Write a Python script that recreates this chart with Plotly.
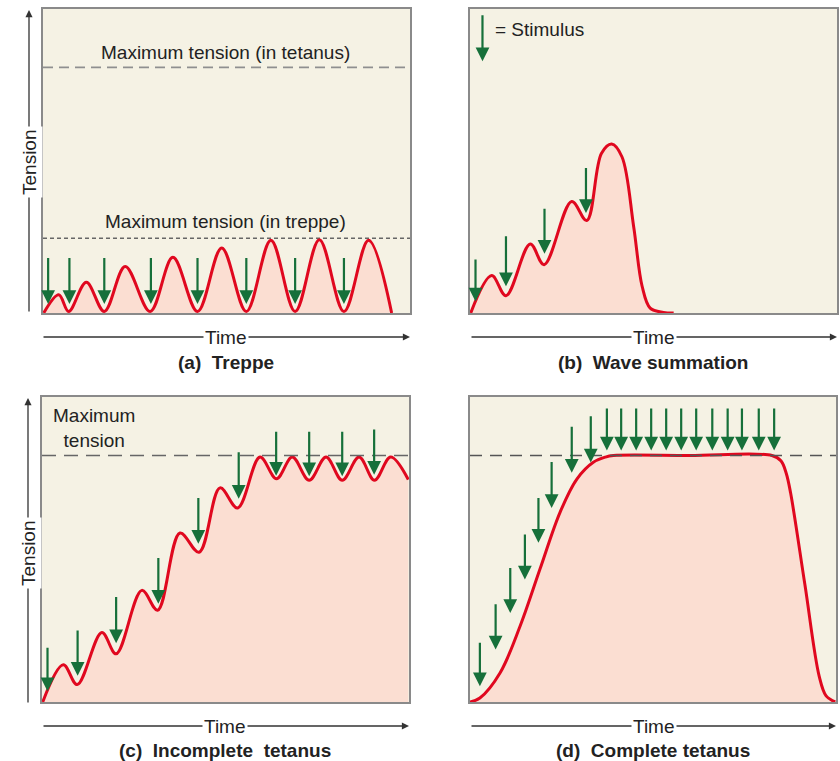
import plotly.graph_objects as go

# ---------------- data (0-100 arbitrary units) ----------------
# (a) Treppe
treppe_time    = [0.2, 4.3, 7.0, 11.8, 16.7, 22.4, 29.2, 35.4, 42.1, 48.7, 55.4, 62.1, 68.7, 75.3, 82.0, 88.7, 95.0]
treppe_tension = [0.0, 6.0, 0.5, 10.1, 0.5, 15.3, 0.5, 18.3, 0.5, 21.4, 0.5, 23.9, 0.5, 24.1, 0.5, 23.9, 0.0]
treppe_stim_time = [1.4, 7.2, 16.7, 29.4, 42.1, 55.4, 68.7, 82.0]
treppe_stim_from = [18.6, 18.6, 18.6, 18.6, 18.6, 18.6, 18.6, 18.6]
treppe_stim_to   = [3.0, 3.0, 3.0, 3.0, 3.0, 3.0, 3.0, 3.0]
treppe_max_tetanus = 80.8
treppe_max_treppe = 24.6

# (b) Wave summation
wave_time    = [0.2, 5.9, 9.8, 16.4, 20.2, 27.7, 31.8, 35.8, 38.6, 41.4, 44.6, 46.9, 49.1, 52.7, 55.5]
wave_tension = [0.0, 12.3, 5.7, 22.7, 15.9, 36.7, 30.4, 52.5, 55.6, 51.4, 28.4, 8.8, 1.6, 0.2, 0.0]
wave_stim_time = [1.5, 9.8, 20.3, 31.6]
wave_stim_from = [18.1, 25.7, 34.8, 48.2]
wave_stim_to   = [3.8, 8.8, 19.5, 32.9]

# (c) Incomplete tetanus
inc_time    = [0.2, 5.8, 9.6, 16.3, 20.2, 27.2, 31.5, 37.6, 42.8, 48.5, 53.3, 59.4, 63.9,
               68.2, 72.8, 77.4, 81.8, 86.4, 90.6, 95.0, 99.8]
inc_tension = [0.0, 12.2, 5.7, 22.8, 15.8, 36.6, 30.1, 55.4, 49.1, 70.2, 63.6, 80.3, 73.2,
               80.3, 72.7, 80.3, 72.7, 80.3, 72.7, 80.3, 72.9]
inc_stim_time = [1.5, 9.7, 20.2, 31.7, 42.6, 53.6, 63.8, 72.8, 81.8, 90.5]
inc_stim_from = [18.3, 23.9, 34.9, 47.7, 67.4, 82.4, 89.1, 89.1, 89.1, 89.8]
inc_stim_to   = [3.5, 8.6, 19.3, 32.2, 51.9, 66.6, 74.2, 74.0, 74.0, 74.5]
inc_max = 80.8

# (d) Complete tetanus
comp_time    = [0.0, 2.7, 8.2, 13.7, 19.1, 24.6, 29.2, 33.7, 37.0, 39.2, 60.0, 82.5, 85.0, 86.4, 87.6,
                91.5, 95.4, 97.3, 99.8]
comp_tension = [0.0, 1.3, 9.5, 24.9, 43.5, 62.2, 73.1, 78.6, 80.3, 80.8, 80.8, 80.8, 79.0, 75.0, 68.5,
                38.5, 8.5, 2.0, 0.0]
comp_stim_time = [2.7, 7.0, 11.0, 15.0, 18.7, 22.3, 27.8, 33.0, 37.4, 41.3, 45.4, 49.5, 53.6,
                  57.7, 61.8, 66.2, 70.4, 74.3, 78.9, 83.1]
comp_stim_from = [19.9, 32.5, 44.4, 55.4, 67.4, 79.2, 90.7, 94.2, 96.7, 96.7, 96.7, 96.7, 96.7,
                  96.7, 96.7, 96.7, 96.7, 96.7, 96.7, 96.7]
comp_stim_to   = [5.2, 17.2, 29.2, 40.2, 52.2, 63.6, 75.2, 78.5, 82.5, 82.5, 82.5, 82.5, 82.5,
                  82.5, 82.5, 82.5, 82.5, 82.5, 82.5, 82.5]
comp_max = 80.8

# legend arrow ("= Stimulus") in panel (b)
legend_stim_time = [3.4]
legend_stim_from = [98.4]
legend_stim_to = [82.8]

# ---------------- style ----------------
W, H = 840, 761
FONT = "Liberation Sans, Arial, Helvetica, sans-serif"
BG = "#f5f2e4"
FILL = "rgba(251,222,210,1)"
RED = "#e0081f"
GREEN = "#16703a"
FRAME = "#8a8a8a"
TXT = "#222222"
FS = 19

def px_x(p):
    return p / W

def px_y(p):
    return 1 - p / H

panels = {
    "a": dict(xa="x", ya="y", xd=[43, 410], yd=[9, 313]),
    "b": dict(xa="x2", ya="y2", xd=[470, 837], yd=[9, 313]),
    "c": dict(xa="x3", ya="y3", xd=[42, 409], yd=[397, 702]),
    "d": dict(xa="x4", ya="y4", xd=[470, 836], yd=[397, 702]),
}

fig = go.Figure()
annotations = []

def add_curve(key, t, v):
    p = panels[key]
    fig.add_trace(go.Scatter(x=t, y=v, xaxis=p["xa"], yaxis=p["ya"], mode="lines",
                             line=dict(color=RED, width=3, shape="spline", smoothing=1.0),
                             fill="tozeroy", fillcolor=FILL, hoverinfo="skip", showlegend=False))

def add_level(key, level, dash, color, width=1.5):
    p = panels[key]
    fig.add_trace(go.Scatter(x=[0, 100], y=[level, level], xaxis=p["xa"], yaxis=p["ya"], mode="lines",
                             line=dict(color=color, width=width, dash=dash),
                             hoverinfo="skip", showlegend=False))

def add_stimuli(key, times, frm, to):
    p = panels[key]
    for t, f, e in zip(times, frm, to):
        annotations.append(dict(x=t, y=e, ax=t, ay=f, xref=p["xa"], yref=p["ya"],
                                axref=p["xa"], ayref=p["ya"], text="", showarrow=True,
                                arrowhead=2, arrowsize=1.25, arrowwidth=2.2, arrowcolor=GREEN,
                                standoff=0))

add_level("a", treppe_max_tetanus, "10px,6px", "#8f8f8f", 1.8)
add_level("a", treppe_max_treppe, "4px,3px", "#666666", 1.4)
add_curve("a", treppe_time, treppe_tension)
add_stimuli("a", treppe_stim_time, treppe_stim_from, treppe_stim_to)

add_curve("b", wave_time, wave_tension)
add_stimuli("b", wave_stim_time, wave_stim_from, wave_stim_to)
add_stimuli("b", legend_stim_time, legend_stim_from, legend_stim_to)

add_curve("c", inc_time, inc_tension)
add_level("c", inc_max, "14px,8px", "#666666", 1.6)
add_stimuli("c", inc_stim_time, inc_stim_from, inc_stim_to)

add_curve("d", comp_time, comp_tension)
add_level("d", comp_max, "12px,8px", "#555555", 1.5)
add_stimuli("d", comp_stim_time, comp_stim_from, comp_stim_to)

# in-plot text
annotations += [
    dict(x=49.6, y=85.6, xref="x", yref="y", text="Maximum tension (in tetanus)", showarrow=False,
         xanchor="center", yanchor="middle", font=dict(size=FS, color=TXT, family=FONT)),
    dict(x=49.6, y=30.0, xref="x", yref="y", text="Maximum tension (in treppe)", showarrow=False,
         xanchor="center", yanchor="middle", font=dict(size=FS, color=TXT, family=FONT)),
    dict(x=6.2, y=93.4, xref="x2", yref="y2", text="= Stimulus", showarrow=False, xanchor="left",
         yanchor="middle", font=dict(size=FS, color=TXT, family=FONT)),
    dict(x=14.3, y=89.8, xref="x3", yref="y3", text="Maximum<br>tension", showarrow=False,
         xanchor="center", yanchor="middle", font=dict(size=FS, color=TXT, family=FONT), align="center"),
]

# axis arrows with labels (paper coordinates)
def tension_axis(xp, y_bot, y_top, y_lab):
    annotations.append(dict(x=px_x(xp), y=px_y(y_top), xref="paper", yref="paper",
                            ax=0, ay=y_bot - y_top, axref="pixel", ayref="pixel", text="",
                            showarrow=True, arrowhead=2, arrowsize=1.1, arrowwidth=1.3,
                            arrowcolor="#333333", standoff=0))
    annotations.append(dict(x=px_x(xp), y=px_y(y_lab), xref="paper", yref="paper",
                            xanchor="center", yanchor="middle",
                            text="Tension", textangle=-90, showarrow=False, bgcolor="white",
                            borderpad=2, font=dict(size=FS, color=TXT, family=FONT)))

def time_axis(x_left, x_right, yp, x_lab):
    annotations.append(dict(x=px_x(x_right), y=px_y(yp), xref="paper", yref="paper",
                            ax=x_left - x_right, ay=0, axref="pixel", ayref="pixel", text="",
                            showarrow=True, arrowhead=2, arrowsize=1.1, arrowwidth=1.3,
                            arrowcolor="#333333", standoff=0))
    annotations.append(dict(x=px_x(x_lab), y=px_y(yp), xref="paper", yref="paper",
                            xanchor="center", yanchor="middle",
                            text="Time", showarrow=False, bgcolor="white", borderpad=1,
                            font=dict(size=FS, color=TXT, family=FONT)))

def caption(x_c, yp, text):
    annotations.append(dict(x=px_x(x_c), y=px_y(yp), xref="paper", yref="paper",
                            xanchor="center", yanchor="middle",
                            text="<b>" + text + "</b>", showarrow=False,
                            font=dict(size=FS, color=TXT, family=FONT)))

tension_axis(29, 313, 10, 162)
tension_axis(28, 704, 398, 553)
time_axis(42, 410, 337, 226)
time_axis(470, 837, 337, 654)
time_axis(42, 409, 726, 225)
time_axis(470, 836, 726, 654)
caption(226, 362, "(a)\u00a0 Treppe")
caption(653, 362, "(b)\u00a0 Wave summation")
caption(225, 750, "(c)\u00a0 Incomplete\u00a0 tetanus")
caption(653, 750, "(d)\u00a0 Complete tetanus")

layout = dict(width=W, height=H, margin=dict(l=0, r=0, t=0, b=0),
              paper_bgcolor="white", plot_bgcolor=BG, showlegend=False,
              annotations=annotations, font=dict(family=FONT))

axis_common = dict(showgrid=False, zeroline=False, showticklabels=False, ticks="",
                   showline=True, mirror=True, linecolor=FRAME, linewidth=1.5,
                   fixedrange=True)
for i, key in enumerate(["a", "b", "c", "d"]):
    p = panels[key]
    sfx = "" if i == 0 else str(i + 1)
    layout["xaxis" + sfx] = dict(axis_common, domain=[px_x(p["xd"][0]), px_x(p["xd"][1])],
                                 range=[0, 100], anchor="y" + sfx)
    layout["yaxis" + sfx] = dict(axis_common, domain=[px_y(p["yd"][1]), px_y(p["yd"][0])],
                                 range=[0, 100], anchor="x" + sfx)

fig.update_layout(**layout)
fig.write_html("out.html", config={"displayModeBar": False},
               post_script="document.body.style.margin='0';document.body.style.overflow='hidden';")
